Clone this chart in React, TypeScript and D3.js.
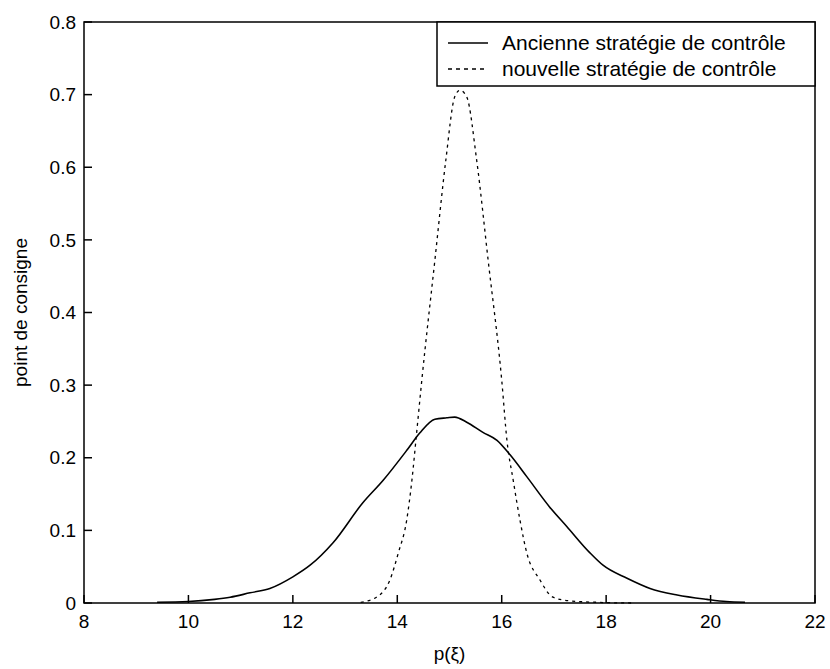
import React, { useEffect, useRef } from "react";
import * as d3 from "d3";

const xTicks = [8, 10, 12, 14, 16, 18, 20, 22];
const yTicks = [0, 0.1, 0.2, 0.3, 0.4, 0.5, 0.6, 0.7, 0.8];
const yTickLabels = ["0", "0.1", "0.2", "0.3", "0.4", "0.5", "0.6", "0.7", "0.8"];

const oldX = [9.4, 10.0, 10.5, 10.8, 11.18, 11.56, 12.0, 12.33, 12.77, 13.34, 13.73, 14.19, 14.43, 14.72, 14.95, 15.1, 15.33, 15.64, 15.91, 16.16, 16.48, 16.92, 17.25, 17.69, 17.94, 18.4, 18.84, 19.36, 19.93, 20.3, 20.66];
const oldY = [0.001, 0.002, 0.005, 0.008, 0.014, 0.02, 0.036, 0.052, 0.083, 0.138, 0.169, 0.211, 0.234, 0.253, 0.255, 0.256, 0.249, 0.235, 0.224, 0.204, 0.174, 0.132, 0.105, 0.069, 0.052, 0.034, 0.02, 0.011, 0.005, 0.002, 0.001];

const newX = [13.3, 13.6, 13.86, 14.02, 14.18, 14.28, 14.37, 14.47, 14.72, 14.93, 15.1, 15.2, 15.33, 15.52, 15.74, 16.0, 16.1, 16.22, 16.35, 16.48, 16.73, 16.98, 17.3, 17.8, 18.5];
const newY = [0.001, 0.008, 0.032, 0.069, 0.114, 0.169, 0.234, 0.307, 0.472, 0.61, 0.697, 0.706, 0.697, 0.61, 0.472, 0.307, 0.224, 0.169, 0.114, 0.069, 0.032, 0.008, 0.003, 0.001, 0.0];

const legendLabels = ["Ancienne stratégie de contrôle", "nouvelle stratégie de contrôle"];
const xLabel = "p(ξ)";
const yLabel = "point de consigne";

const W = 830;
const H = 669;
const L = 84, R = 815, T = 22, B = 603;
const FONT = "'Liberation Sans', Arial, Helvetica, sans-serif";

export default function App() {
  const ref = useRef<SVGSVGElement>(null);

  useEffect(() => {
    const svg = d3.select(ref.current);
    svg.selectAll("*").remove();
    const x = d3.scaleLinear().domain([8, 22]).range([L, R]);
    const y = d3.scaleLinear().domain([0, 0.8]).range([B, T]);

    svg.append("rect").attr("width", W).attr("height", H).attr("fill", "#fff");

    svg.append("rect").attr("x", L).attr("y", T).attr("width", R - L).attr("height", B - T)
      .attr("fill", "none").attr("stroke", "#000").attr("stroke-width", 1.5);

    const xg = svg.append("g");
    xTicks.forEach((t) => {
      xg.append("line").attr("x1", x(t)).attr("x2", x(t)).attr("y1", B).attr("y2", B - 8)
        .attr("stroke", "#000").attr("stroke-width", 1.5);
      xg.append("text").attr("x", x(t)).attr("y", B + 25).attr("text-anchor", "middle")
        .attr("font-family", FONT).attr("font-size", 19).text(String(t));
    });
    const yg = svg.append("g");
    yTicks.forEach((t, i) => {
      yg.append("line").attr("x1", L).attr("x2", L + 8).attr("y1", y(t)).attr("y2", y(t))
        .attr("stroke", "#000").attr("stroke-width", 1.5);
      yg.append("text").attr("x", L - 8).attr("y", y(t)).attr("dy", "0.35em").attr("text-anchor", "end")
        .attr("font-family", FONT).attr("font-size", 19).text(yTickLabels[i]);
    });

    const line = d3.line<[number, number]>().x((d) => x(d[0])).y((d) => y(d[1])).curve(d3.curveMonotoneX);
    const oldData = oldX.map((v, i) => [v, oldY[i]] as [number, number]);
    const newData = newX.map((v, i) => [v, newY[i]] as [number, number]);

    svg.append("path").attr("d", line(oldData)).attr("fill", "none").attr("stroke", "#000")
      .attr("stroke-width", 1.6).attr("stroke-linejoin", "round");
    svg.append("path").attr("d", line(newData)).attr("fill", "none").attr("stroke", "#000")
      .attr("stroke-width", 1.3).attr("stroke-dasharray", "3,4");

    const lg = svg.append("g");
    lg.append("rect").attr("x", 437).attr("y", T).attr("width", R - 437).attr("height", 64)
      .attr("fill", "#fff").attr("stroke", "#000").attr("stroke-width", 1.5);
    const rows = [T + 21, T + 47];
    legendLabels.forEach((lab, i) => {
      lg.append("line").attr("x1", 448).attr("x2", 488).attr("y1", rows[i]).attr("y2", rows[i])
        .attr("stroke", "#000").attr("stroke-width", 1.4)
        .attr("stroke-dasharray", i === 1 ? "4,4" : null);
      lg.append("text").attr("x", 502).attr("y", rows[i]).attr("dy", "0.35em")
        .attr("font-family", FONT).attr("font-size", 21).text(lab);
    });

    svg.append("text").attr("x", (L + R) / 2).attr("y", 660).attr("text-anchor", "middle")
      .attr("font-family", FONT).attr("font-size", 19).text(xLabel);
    svg.append("text").attr("transform", `translate(27,${(T + B) / 2}) rotate(-90)`)
      .attr("text-anchor", "middle").attr("font-family", FONT).attr("font-size", 19).text(yLabel);
  }, []);

  return (
    <svg ref={ref} width={W} height={H} style={{ position: "absolute", left: 0, top: 0 }} />
  );
}
